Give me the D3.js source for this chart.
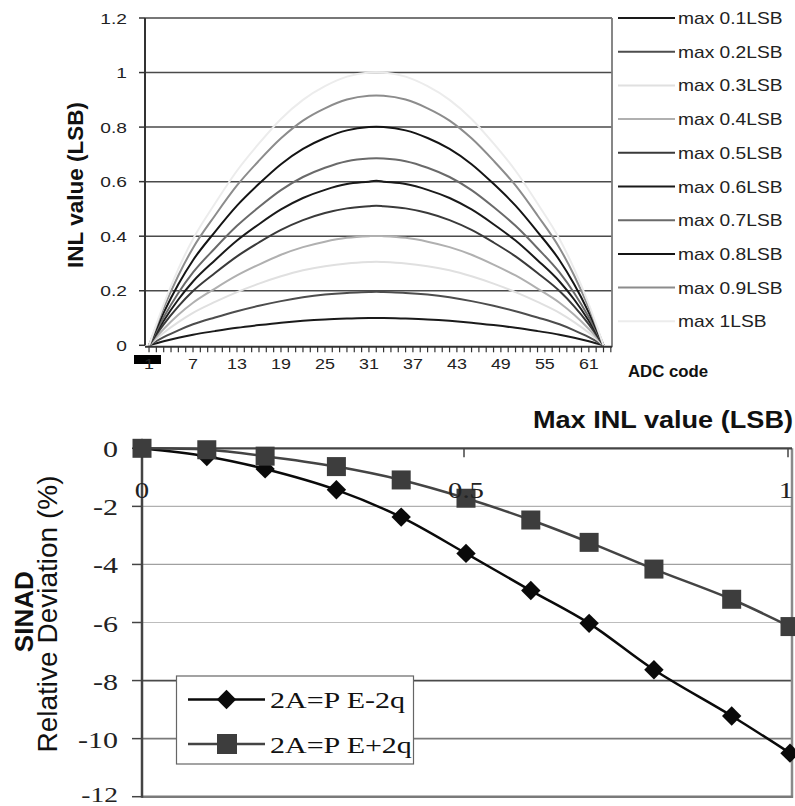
<!DOCTYPE html>
<html><head><meta charset="utf-8">
<script src="https://cdn.jsdelivr.net/npm/d3@7"></script>
<style>html,body{margin:0;padding:0;background:#fff;}svg{display:block;}</style>
</head><body>
<svg id="c" width="795" height="806"></svg>
<script>
// ---------- DATA ----------
const codes = [1,3,5,7,10,13,16,19,22,25,28,31,32,33,36,39,42,45,48,51,54,57,59,61,63];
const seriesLabels = ["max 0.1LSB","max 0.2LSB","max 0.3LSB","max 0.4LSB","max 0.5LSB","max 0.6LSB","max 0.7LSB","max 0.8LSB","max 0.9LSB","max 1LSB"];
const inl01 = [0,.015,.028,.039,.052,.064,.074,.083,.090,.095,.098,.100,.100,.100,.098,.095,.090,.083,.074,.064,.052,.039,.028,.015,0];
const inl02 = [0,.030,.055,.077,.102,.125,.145,.162,.176,.186,.192,.195,.196,.195,.192,.186,.176,.162,.145,.125,.102,.077,.055,.030,0];
const inl03 = [0,.046,.085,.119,.159,.195,.226,.253,.275,.290,.300,.305,.306,.305,.300,.290,.275,.253,.226,.195,.159,.119,.085,.046,0];
const inl04 = [0,.060,.112,.156,.208,.256,.296,.332,.360,.380,.394,.400,.401,.400,.394,.380,.360,.332,.296,.256,.208,.156,.112,.060,0];
const inl05 = [0,.077,.143,.199,.265,.326,.377,.423,.459,.485,.502,.510,.512,.510,.502,.485,.459,.423,.377,.326,.265,.199,.143,.077,0];
const inl06 = [0,.090,.168,.234,.312,.384,.444,.498,.540,.570,.591,.600,.603,.600,.591,.570,.540,.498,.444,.384,.312,.234,.168,.090,0];
const inl07 = [0,.103,.192,.267,.356,.438,.507,.569,.617,.651,.675,.685,.686,.685,.675,.651,.617,.569,.507,.438,.356,.267,.192,.103,0];
const inl08 = [0,.120,.224,.312,.416,.512,.592,.664,.720,.760,.788,.800,.801,.800,.788,.760,.720,.664,.592,.512,.416,.312,.224,.120,0];
const inl09 = [0,.137,.256,.357,.476,.586,.677,.759,.824,.869,.901,.915,.916,.915,.901,.869,.824,.759,.677,.586,.476,.357,.256,.137,0];
const inl10 = [0,.150,.280,.390,.520,.640,.740,.830,.900,.950,.985,1.000,1.001,1.000,.985,.950,.900,.830,.740,.640,.520,.390,.280,.150,0];
const inlSeries = [inl01,inl02,inl03,inl04,inl05,inl06,inl07,inl08,inl09,inl10];
const seriesColors = ["#1a1a1a","#4d4d4d","#e0e0e0","#b0b0b0","#3a3a3a","#1a1a1a","#6a6a6a","#141414","#8c8c8c","#ececec"];
const topYTicks = [0,0.2,0.4,0.6,0.8,1,1.2];
const topXTickLabels = [1,7,13,19,25,31,37,43,49,55,61];

const maxInl = [0,0.1,0.19,0.3,0.4,0.5,0.6,0.69,0.79,0.91,1.0];
const sinadMinus2q = [0,-0.28,-0.71,-1.43,-2.37,-3.62,-4.9,-6.03,-7.63,-9.22,-10.5];
const sinadPlus2q = [0,-0.05,-0.27,-0.63,-1.09,-1.72,-2.47,-3.24,-4.16,-5.2,-6.14];
const bottomYTicks = [0,-2,-4,-6,-8,-10,-12];
const bottomXTicks = [0,0.5,1];
const bottomLegend = ["2A=P E-2q","2A=P E+2q"];

// ---------- HELPERS ----------
const svg = d3.select("#c");
const SANS = "'Liberation Sans', Arial, sans-serif";
const SERIF = "'Liberation Serif', 'Times New Roman', serif";
function txt(x, y, s, o) {
  o = o || {};
  return svg.append("text")
    .attr("transform", `translate(${x},${y})` + (o.rot ? ` rotate(${o.rot})` : "") + ` scale(${o.sx||1},1)`)
    .attr("font-family", o.family || SANS)
    .attr("font-size", o.size || 14)
    .attr("font-weight", o.weight || "normal")
    .attr("text-anchor", o.anchor || "start")
    .attr("fill", o.fill || "#111")
    .text(s);
}

// ---------- TOP CHART ----------
const xT = d3.scaleLinear().domain([0.45, 64.16]).range([145, 612]);
const yT = d3.scaleLinear().domain([0, 1.2]).range([345.3, 18]);

const gT = svg.append("g");
topYTicks.filter(v => v > 0).forEach(v => {
  gT.append("line").attr("x1", 145).attr("x2", 612).attr("y1", yT(v)).attr("y2", yT(v))
    .attr("stroke", "#4a4a4a").attr("stroke-width", 1.5);
});
gT.append("line").attr("x1", 612).attr("x2", 612).attr("y1", yT(1.2)).attr("y2", yT(0) + 2)
  .attr("stroke", "#7a7a7a").attr("stroke-width", 1.8);

const lineT = d3.line().x((d, i) => xT(codes[i])).y(d => yT(d)).curve(d3.curveMonotoneX);
inlSeries.forEach((s, k) => {
  gT.append("path").attr("d", lineT(s)).attr("fill", "none")
    .attr("stroke", seriesColors[k]).attr("stroke-width", 2);
});

gT.append("line").attr("x1", 145).attr("x2", 145).attr("y1", yT(1.2)).attr("y2", yT(0))
  .attr("stroke", "#333").attr("stroke-width", 2);
topYTicks.forEach(v => {
  gT.append("line").attr("x1", 139).attr("x2", 145).attr("y1", yT(v)).attr("y2", yT(v))
    .attr("stroke", "#333").attr("stroke-width", 1.5);
  txt(127, yT(v) + 5.5, v === 0 ? "0" : String(v), {size: 15, sx: 1.28, anchor: "end", fill: "#222"});
});
gT.append("line").attr("x1", 145).attr("x2", 612).attr("y1", yT(0) + 1.5).attr("y2", yT(0) + 1.5)
  .attr("stroke", "#333").attr("stroke-width", 2);
d3.range(1, 65).forEach(c => {
  gT.append("line").attr("x1", xT(c)).attr("x2", xT(c)).attr("y1", yT(0) + 1.5).attr("y2", yT(0) + 7)
    .attr("stroke", "#333").attr("stroke-width", 1.2);
});
topXTickLabels.forEach(c => {
  txt(xT(c), 368.5, String(c), {size: 14, sx: 1.28, anchor: "middle", fill: "#222"});
});
gT.append("rect").attr("x", 134).attr("y", 355).attr("width", 27).attr("height", 9).attr("fill", "#000");

txt(83, 185, "INL value (LSB)", {size: 22.5, weight: "bold", rot: -90, anchor: "middle"});
txt(628, 377, "ADC code", {size: 16, weight: "bold", sx: 1.05});

seriesLabels.forEach((lab, k) => {
  const y = 18 + k * 33.7;
  gT.append("line").attr("x1", 618).attr("x2", 675).attr("y1", y).attr("y2", y)
    .attr("stroke", seriesColors[k]).attr("stroke-width", 2);
  txt(678, y + 6, lab, {size: 16, sx: 1.2, fill: "#222"});
});

// ---------- BOTTOM CHART ----------
const xB = d3.scaleLinear().domain([0, 1]).range([142, 790]);
const yB = d3.scaleLinear().domain([-12, 0]).range([796.7, 448.3]);
const gB = svg.append("g");

const gridColors = {"-2": "#b0b0b0", "-4": "#a0a0a0", "-6": "#bdbdbd", "-8": "#4a4a4a", "-10": "#7a7a7a"};
bottomYTicks.filter(v => v < 0 && v > -12).forEach(v => {
  gB.append("line").attr("x1", 142).attr("x2", 792).attr("y1", yB(v)).attr("y2", yB(v))
    .attr("stroke", gridColors[String(v)]).attr("stroke-width", v <= -8 ? 1.8 : 1.2);
});
gB.append("line").attr("x1", 792).attr("x2", 792).attr("y1", yB(0)).attr("y2", yB(-12) + 1)
  .attr("stroke", "#8a8a8a").attr("stroke-width", 2.5);
gB.append("line").attr("x1", 142).attr("x2", 793).attr("y1", yB(-12)).attr("y2", yB(-12))
  .attr("stroke", "#7a7a7a").attr("stroke-width", 2.5);

gB.append("line").attr("x1", 142).attr("x2", 142).attr("y1", yB(0)).attr("y2", yB(-12) + 1)
  .attr("stroke", "#444").attr("stroke-width", 2.5);
bottomYTicks.forEach(v => {
  gB.append("line").attr("x1", 132).attr("x2", 142).attr("y1", yB(v)).attr("y2", yB(v))
    .attr("stroke", "#444").attr("stroke-width", 1.5);
  const last = v === -12;
  txt(118, yB(v) + (last ? 5.5 : 9), String(v), {size: last ? 22 : 24, family: SERIF, sx: 1.25, anchor: "end", fill: "#222"});
});
gB.append("line").attr("x1", 142).attr("x2", 792).attr("y1", yB(0)).attr("y2", yB(0))
  .attr("stroke", "#444").attr("stroke-width", 2.2);
bottomXTicks.forEach(v => {
  if (v > 0) gB.append("line").attr("x1", xB(v) - 2).attr("x2", xB(v) - 2).attr("y1", yB(0)).attr("y2", yB(0) + 9)
    .attr("stroke", "#444").attr("stroke-width", 1.5);
  txt(v === 1 ? xB(v) - 4 : xB(v), 498, String(v), {size: 24, family: SERIF, sx: 1.2, anchor: "middle", fill: "#222"});
});

const lineB = d3.line().x((d, i) => xB(maxInl[i])).y(d => yB(d)).curve(d3.curveCatmullRom);
gB.append("path").attr("d", lineB(sinadMinus2q)).attr("fill", "none").attr("stroke", "#0a0a0a").attr("stroke-width", 2.5);
const diamond = d3.symbol().type(d3.symbolDiamond2).size(240);
sinadMinus2q.forEach((v, i) => {
  gB.append("path").attr("d", diamond()).attr("transform", `translate(${xB(maxInl[i])},${yB(v)})`)
    .attr("fill", "#0a0a0a");
});
gB.append("path").attr("d", lineB(sinadPlus2q)).attr("fill", "none").attr("stroke", "#444").attr("stroke-width", 2.5);
sinadPlus2q.forEach((v, i) => {
  gB.append("rect").attr("x", xB(maxInl[i]) - 9.5).attr("y", yB(v) - 9.5).attr("width", 19).attr("height", 19)
    .attr("fill", "#3d3d3d");
});

gB.append("rect").attr("x", 176.5).attr("y", 676).attr("width", 237).attr("height", 88)
  .attr("fill", "#fff").attr("stroke", "#666").attr("stroke-width", 1.2);
[699.5, 744].forEach((y, k) => {
  gB.append("line").attr("x1", 188).attr("x2", 265).attr("y1", y).attr("y2", y)
    .attr("stroke", k === 0 ? "#0a0a0a" : "#444").attr("stroke-width", 2.5);
  if (k === 0) {
    gB.append("path").attr("d", diamond()).attr("transform", `translate(226.5,${y})`).attr("fill", "#0a0a0a");
  } else {
    gB.append("rect").attr("x", 217).attr("y", y - 10).attr("width", 20).attr("height", 20).attr("fill", "#3d3d3d");
  }
  txt(270, y + 8.5, bottomLegend[k], {size: 24, family: SERIF, sx: 1.25, fill: "#111"});
});

txt(793, 428, "Max INL value (LSB)", {size: 24, weight: "bold", sx: 1.13, anchor: "end"});
txt(33, 611.7, "SINAD", {size: 26, weight: "bold", rot: -90, anchor: "middle"});
txt(57, 614, "Relative Deviation (%)", {size: 28, rot: -90, anchor: "middle"});
</script>
</body></html>
